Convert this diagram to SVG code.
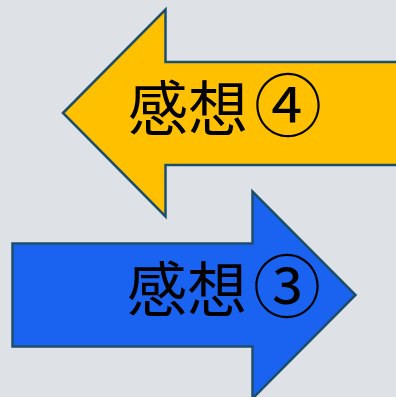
<svg xmlns="http://www.w3.org/2000/svg" width="396" height="397" viewBox="0 0 396 397">
<style>
.arrow{stroke:#1d4f6b;stroke-width:2.5;stroke-linejoin:miter}
.lbl{font-family:"Noto Sans CJK JP","Noto Sans CJK SC",sans-serif;font-size:60px;fill:#000}
.num{font-size:68px}
</style>
<rect width="396" height="397" fill="#dee2e6"/>
<g id="arrow-left">
<polygon class="arrow" fill="#ffc000" points="63,113 165.5,9.5 165.5,62 400,62 400,165 165.5,165 165.5,216.5"/>
<text class="lbl" x="128" y="131">感想<tspan class="num" dx="6" dy="0">④</tspan></text>
</g>
<g id="arrow-right">
<polygon class="arrow" fill="#1a62f0" points="12.5,243.5 252.5,243.5 252.5,191.5 355.5,295 252.5,398.5 252.5,346.5 12.5,346.5"/>
<text class="lbl" x="127" y="312">感想<tspan class="num" dx="6" dy="0">③</tspan></text>
</g>
</svg>
